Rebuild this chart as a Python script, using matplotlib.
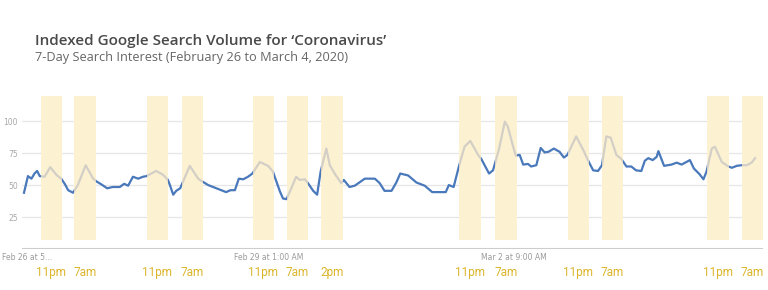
import matplotlib
matplotlib.use("Agg")
import matplotlib.pyplot as plt
from matplotlib.patches import Rectangle

# hours since Feb 26, 5 PM  /  indexed search volume
hours = [0, 0.9, 1.7, 2.4, 3.0, 3.6, 4.7, 6.0, 7.4, 8.5, 9.3, 10.1, 11.2, 12.3, 14.1,
         15.8, 16.5, 17.7, 19.0, 20.3, 21.9, 22.9, 23.8, 24.9, 26.1, 27.2, 28.0, 30.2,
         31.8, 32.9, 33.3, 34.1, 34.8, 35.7, 37.9, 39.8, 40.9, 42.1, 43.6, 45.5, 46.2,
         47.2, 48.2, 49.1, 50.1, 51.2, 52.2, 53.9, 55.8, 56.9, 57.3, 58.5, 59.2, 60.0,
         61.1, 62.2, 63.0, 64.2, 64.9, 66.1, 67.0, 67.8, 69.1, 69.9, 71.0, 72.5, 73.1,
         74.4, 75.6, 77.9, 80.2, 81.3, 82.4, 84.0, 85.1, 86.0, 87.8, 89.7, 91.6, 93.3,
         96.4, 97.1, 98.2, 99.4, 100.7, 102.0, 103.8, 104.5, 106.3, 107.2, 108.6, 109.9,
         110.6, 111.8, 112.4, 113.3, 114.1, 115.2, 115.9, 117.1, 118.1, 119.0, 119.9,
         121.1, 122.4, 123.4, 124.2, 126.2, 127.8, 129.1, 130.1, 131.2, 132.1, 133.1,
         134.1, 135.4, 136.5, 137.7, 138.8, 139.9, 141.1, 141.9, 142.7, 143.7, 144.6,
         145.0, 146.3, 148.0, 149.2, 150.3, 152.2, 153.1, 154.4, 155.3, 156.0, 157.2,
         157.9, 159.5, 161.0, 161.8, 162.9, 164.0, 165.2, 166.3, 167.1]
volume = [44, 57, 55, 59, 61, 57, 56.5, 64, 58, 55, 51, 46, 44, 50, 65.5,
          55, 53, 50.5, 47.5, 48.5, 48.5, 51, 49.5, 56.5, 55, 56.5, 57, 61,
          58, 54, 50.5, 42.5, 45.5, 47.5, 65, 55, 52.5, 50, 48, 45.5, 44.5,
          46, 46, 55, 54.5, 56.5, 59, 68, 65, 60.5, 56.5, 45, 39.5, 39,
          47.5, 56.5, 54, 54.5, 51.5, 45.5, 42.5, 60.5, 78.5, 65.5, 59, 51.5, 54,
          48.5, 49.5, 55, 55, 51.5, 45.5, 45.5, 52, 59, 57.5, 52, 49.5, 44.5,
          44.5, 50, 48.5, 64.5, 80, 84.5, 73.5, 70.5, 59, 61.5, 78.5, 99.5,
          95.5, 80, 73, 73.5, 66, 66.5, 64.5, 65.5, 79, 75.5, 76,
          78.5, 76, 71.5, 73.5, 88, 77.5, 68, 61.5, 61, 65.5, 88,
          87, 73.5, 70.5, 64.5, 64.5, 61.5, 61, 69, 71, 69.5, 72,
          76.5, 65, 66, 67.5, 66, 69.5, 63, 58.5, 54.5, 60.5, 78.5,
          80, 68, 64.5, 63.5, 65, 65.5, 65.5, 67.5, 71]

# highlighted windows (start hour, end hour) and their labels
band_start = [3.8, 11.4, 28.1, 36.1, 52.3, 60.1, 67.9, 99.4, 107.7, 124.3, 132.1, 156.1, 164.1]
band_end = [8.7, 16.5, 32.9, 40.9, 57.1, 64.9, 72.9, 104.5, 112.7, 129.1, 136.9, 161.1, 168.9]
band_labels = ["11pm", "7am", "11pm", "7am", "11pm", "7am", "2pm",
               "11pm", "7am", "11pm", "7am", "11pm", "7am"]

x_ticks = [0.6, 56, 112]
x_ticklabels = ["Feb 26 at 5...", "Feb 29 at 1:00 AM", "Mar 2 at 9:00 AM"]
y_ticks = [25, 50, 75, 100]

BLUE = "#4a79bb"
GREY = "#d3cfc6"
BAND = "#fcf2d2"
GOLD = "#dcb52c"

XMIN, XMAX = -0.5, 169

fig = plt.figure(figsize=(7.68, 2.9), dpi=100)
ax = fig.add_axes([0.0284, 0.141, 0.9656, 0.53])
ax.set_xlim(XMIN, XMAX)
ax.set_ylim(0, 120)

ax.set_yticks(y_ticks)
ax.set_yticklabels([str(v) for v in y_ticks], fontsize=5.5, color="#a8a8a8")
ax.set_xticks(x_ticks)
ax.set_xticklabels(x_ticklabels, fontsize=5.5, color="#9a9a9a")
ax.tick_params(length=0, pad=3)
ax.grid(axis="y", color="#e6e6e6", lw=0.9, zorder=0)
for s in ax.spines.values():
    s.set_visible(False)
ax.axhline(0, color="#cdcdcd", lw=2.2, zorder=1)

# blue line only between the bands, grey inside them
gaps_lo = [XMIN] + band_end
gaps_hi = band_start + [XMAX]
for a, b in zip(gaps_lo, gaps_hi):
    if b <= a:
        continue
    ln, = ax.plot(hours, volume, color=BLUE, lw=1.6, zorder=3, solid_joinstyle="round")
    ln.set_clip_path(Rectangle((a, 0), b - a, 120, transform=ax.transData))

for a, b, lab in zip(band_start, band_end, band_labels):
    ax.add_patch(Rectangle((a, 7), b - a, 112.5, facecolor=BAND, edgecolor="none", zorder=2))
    ln, = ax.plot(hours, volume, color=GREY, lw=1.6, zorder=4, solid_joinstyle="round")
    ln.set_clip_path(Rectangle((a, 0), b - a, 120, transform=ax.transData))
    ax.text((a + b) / 2, -18.5, lab, ha="center", va="center", fontsize=8.5,
            color=GOLD, family="Roboto", clip_on=False)

fig.text(35 / 768, 1 - 41 / 290, "Indexed Google Search Volume for \u2018Coronavirus\u2019",
         fontsize=11, fontweight="semibold", color="#4a4a4a", family="Open Sans",
         va="center", ha="left")
fig.text(35 / 768, 1 - 58 / 290, "7-Day Search Interest (February 26 to March 4, 2020)",
         fontsize=9.2, color="#666666", family="Open Sans", va="center", ha="left")

fig.savefig("out.png", dpi=100)
